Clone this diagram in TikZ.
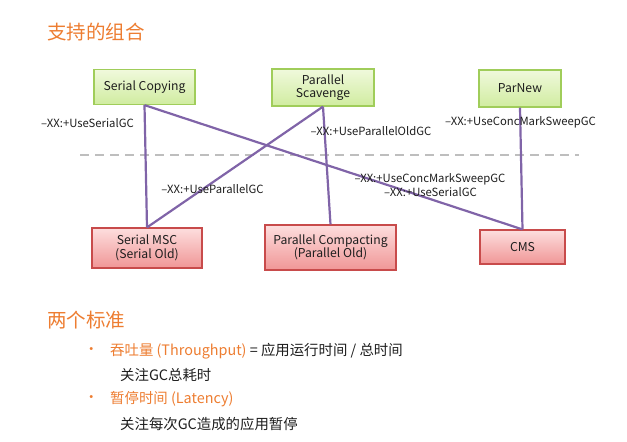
\documentclass[tikz,border=0pt]{standalone}
\usepackage{fontspec}
\setmainfont{Noto Sans CJK SC}
\definecolor{accent}{RGB}{237,125,49}
\definecolor{gcline}{RGB}{128,100,168}
\definecolor{youngtop}{RGB}{240,249,220}
\definecolor{youngbot}{RGB}{208,236,160}
\definecolor{youngedge}{RGB}{160,205,90}
\definecolor{oldtop}{RGB}{253,222,222}
\definecolor{oldbot}{RGB}{240,150,150}
\definecolor{oldedge}{RGB}{200,75,75}
\definecolor{divider}{RGB}{190,190,190}
\definecolor{ink}{RGB}{30,30,30}
\begin{document}
\begin{tikzpicture}[x=1pt,y=-1pt,
  young/.style={draw=youngedge, line width=1.2pt, top color=youngtop, bottom color=youngbot,
    align=center, inner sep=0pt, font=\fontsize{12.2}{13.5}\selectfont, text=ink},
  old/.style={draw=oldedge, line width=1.2pt, top color=oldtop, bottom color=oldbot,
    align=center, inner sep=0pt, font=\fontsize{12.2}{13.5}\selectfont, text=ink},
  link/.style={draw=gcline, line width=2.2pt},
  flag/.style={font=\fontsize{11.3}{13}\selectfont, text=ink, inner sep=0pt, align=center},
  heading/.style={font=\fontsize{19.5}{22}\selectfont, text=accent, anchor=west, inner sep=0pt},
  body/.style={font=\fontsize{14.4}{16}\selectfont, text=ink, anchor=west, inner sep=0pt},
]
\useasboundingbox (0,0) rectangle (627,442);

% title
\node[heading] (title) at (47,32) {支持的组合};

% divider between young and old generation collectors
\coordinate (divl) at (80,155);
\coordinate (divr) at (579,155);
\draw[divider, line width=2.2pt, dash pattern=on 9pt off 6pt] (divl) -- (divr);

% young generation collectors
\node[young, minimum width=101pt, minimum height=35pt] (sc) at (144.5,87) {Serial Copying};
\node[young, minimum width=102pt, minimum height=37pt] (ps) at (323,87.5) {Parallel\\Scavenge};
\node[young, minimum width=82pt, minimum height=37pt] (pn) at (520,88.5) {ParNew};

% old generation collectors
\node[old, minimum width=110pt, minimum height=40pt] (msc) at (147,248) {Serial MSC\\(Serial Old)};
\node[old, minimum width=131pt, minimum height=45pt] (pc) at (330.5,247.5) {Parallel Compacting\\(Parallel Old)};
\node[old, minimum width=85pt, minimum height=34pt] (cms) at (522.5,247) {CMS};

% valid combinations
\draw[link] (sc.south) -- (msc.north);
\draw[link] (sc.south) -- (cms.north);
\draw[link] (ps.south) -- (msc.north);
\draw[link] (ps.south) -- (pc.north);
\draw[link] (pn.south) -- (cms.north);

% JVM flags
\node[flag] (f1) at (87.5,123) {–XX:+UseSerialGC};
\node[flag] (f2) at (371,131) {–XX:+UseParallelOldGC};
\node[flag] (f3) at (520.5,122) {–XX:+UseConcMarkSweepGC};
\node[flag] (f4) at (212.5,189) {–XX:+UseParallelGC};
\node[flag] (f5) at (430,179) {–XX:+UseConcMarkSweepGC};
\node[flag] (f6) at (430.5,192) {–XX:+UseSerialGC};

% two metrics
\node[heading] (metrics) at (47,320) {两个标准};
\node[body, text=accent] (b1) at (84,351) {•};
\node[body] (t1) at (110,351) {\textcolor{accent}{吞吐量 (Throughput)} = 应用运行时间 / 总时间};
\node[body] (d1) at (120,375) {关注GC总耗时};
\node[body, text=accent] (b2) at (84,399) {•};
\node[body, text=accent] (t2) at (110,399) {暂停时间 (Latency)};
\node[body] (d2) at (120,424) {关注每次GC造成的应用暂停};
\end{tikzpicture}
\end{document}
